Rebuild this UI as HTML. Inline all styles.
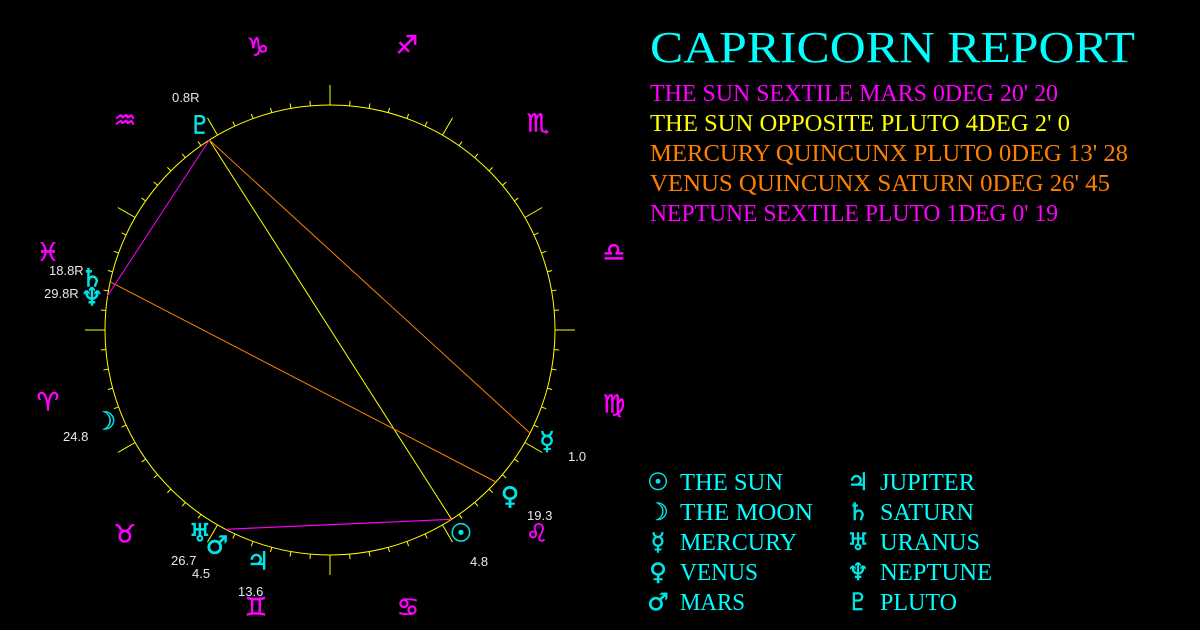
<!DOCTYPE html>
<html><head><meta charset="utf-8"><style>
html,body{margin:0;padding:0;background:#000;width:1200px;height:630px;overflow:hidden}
svg{display:block}
.z{fill:#ff00ff;font-family:"DejaVu Sans",sans-serif;font-size:25px;text-anchor:middle;dominant-baseline:central;stroke:#ff00ff;stroke-width:0.6}
.p{fill:#00e5e5;font-family:"DejaVu Sans",sans-serif;font-size:25px;text-anchor:middle;dominant-baseline:central;stroke:#00e5e5;stroke-width:0.6}
.l{fill:#e8e8e8;font-family:"Liberation Sans",sans-serif;font-size:13px}
.t{font-family:"Liberation Serif",serif;font-size:24px}
.g{fill:#00e5e5;font-family:"DejaVu Sans",sans-serif;font-size:24px;text-anchor:middle;dominant-baseline:central;stroke:#00e5e5;stroke-width:0.5}
</style></head><body>
<svg id="s" width="1200" height="630" viewBox="0 0 1200 630" xmlns="http://www.w3.org/2000/svg">
<circle cx="330" cy="330" r="225" fill="none" stroke="#ffff00" stroke-width="1"/>
<g id="ticks" stroke="#ffff00" stroke-width="1"></g>
<line x1="451.6" y1="519.3" x2="225.8" y2="529.3" stroke="#ff00ff" stroke-width="1.2"/>
<line x1="451.6" y1="519.3" x2="209.3" y2="140" stroke="#ffff00" stroke-width="1"/>
<line x1="530" y1="433" x2="209.3" y2="140" stroke="#ff7f00" stroke-width="1"/>
<line x1="496" y1="482" x2="111" y2="282.3" stroke="#ff7f00" stroke-width="1"/>
<line x1="107" y1="296.7" x2="209.3" y2="140" stroke="#ff00ff" stroke-width="1"/>
<text class="z" x="258" y="47">♑</text>
<text class="z" x="407" y="45">♐</text>
<text class="z" x="538" y="123">♏</text>
<text class="z" x="614" y="252">♎</text>
<text class="z" x="614" y="404">♍</text>
<text class="z" x="537" y="533">♌</text>
<text class="z" x="408" y="607">♋</text>
<text class="z" x="256" y="607">♊</text>
<text class="z" x="125" y="534">♉</text>
<text class="z" x="48" y="402">♈</text>
<text class="z" x="48" y="252">♓</text>
<text class="z" x="125" y="120">♒</text>
<text class="p" x="200" y="125">♇</text><text class="l" x="172" y="102">0.8R</text>
<text class="p" x="92" y="278">♄</text><text class="l" x="49" y="275">18.8R</text>
<text class="p" x="92" y="297">♆</text><text class="l" x="44" y="298">29.8R</text>
<text class="p" x="105" y="421">☽</text><text class="l" x="63" y="441">24.8</text>
<text class="p" x="200" y="533">♅</text><text class="l" x="171" y="565">26.7</text>
<text class="p" x="217" y="545">♂</text><text class="l" x="192" y="578">4.5</text>
<text class="p" x="258" y="561">♃</text><text class="l" x="238" y="596">13.6</text>
<text class="p" x="461" y="533">☉</text><text class="l" x="470" y="566">4.8</text>
<text class="p" x="510" y="496">♀</text><text class="l" x="527" y="520">19.3</text>
<text class="p" x="547" y="441">☿</text><text class="l" x="568" y="461">1.0</text>
<text x="650" y="62" fill="#00ffff" font-family="Liberation Serif,serif" font-size="44" textLength="485" lengthAdjust="spacingAndGlyphs">CAPRICORN REPORT</text>
<text class="t" x="650" y="101" fill="#ff00ff" textLength="408" lengthAdjust="spacingAndGlyphs">THE SUN SEXTILE MARS 0DEG 20' 20</text>
<text class="t" x="650" y="131" fill="#ffff00" textLength="420" lengthAdjust="spacingAndGlyphs">THE SUN OPPOSITE PLUTO 4DEG 2' 0</text>
<text class="t" x="650" y="161" fill="#ff8000" textLength="478" lengthAdjust="spacingAndGlyphs">MERCURY QUINCUNX PLUTO 0DEG 13' 28</text>
<text class="t" x="650" y="191" fill="#ff8000" textLength="460" lengthAdjust="spacingAndGlyphs">VENUS QUINCUNX SATURN 0DEG 26' 45</text>
<text class="t" x="650" y="221" fill="#ff00ff" textLength="408" lengthAdjust="spacingAndGlyphs">NEPTUNE SEXTILE PLUTO 1DEG 0' 19</text>
<g fill="#00ffff">
<text class="g" x="658" y="482">☉</text><text class="t" x="680" y="490" textLength="103" lengthAdjust="spacingAndGlyphs">THE SUN</text>
<text class="g" x="658" y="512">☽</text><text class="t" x="680" y="520" textLength="133" lengthAdjust="spacingAndGlyphs">THE MOON</text>
<text class="g" x="658" y="542">☿</text><text class="t" x="680" y="550" textLength="117" lengthAdjust="spacingAndGlyphs">MERCURY</text>
<text class="g" x="658" y="572">♀</text><text class="t" x="680" y="580" textLength="78" lengthAdjust="spacingAndGlyphs">VENUS</text>
<text class="g" x="658" y="602">♂</text><text class="t" x="680" y="610" textLength="65" lengthAdjust="spacingAndGlyphs">MARS</text>
<text class="g" x="858" y="482">♃</text><text class="t" x="880" y="490" textLength="95" lengthAdjust="spacingAndGlyphs">JUPITER</text>
<text class="g" x="858" y="512">♄</text><text class="t" x="880" y="520" textLength="94" lengthAdjust="spacingAndGlyphs">SATURN</text>
<text class="g" x="858" y="542">♅</text><text class="t" x="880" y="550" textLength="100" lengthAdjust="spacingAndGlyphs">URANUS</text>
<text class="g" x="858" y="572">♆</text><text class="t" x="880" y="580" textLength="112" lengthAdjust="spacingAndGlyphs">NEPTUNE</text>
<text class="g" x="858" y="602">♇</text><text class="t" x="880" y="610" textLength="77" lengthAdjust="spacingAndGlyphs">PLUTO</text>
</g>
</svg>
<script>
var g=document.getElementById('ticks'),h='';
for(var a=0;a<360;a+=5){var r=a*Math.PI/180,L=(a%30==0)?20:5;
var c=Math.cos(r),s=Math.sin(r);
h+='<line x1="'+(330+225*c)+'" y1="'+(330-225*s)+'" x2="'+(330+(225+L)*c)+'" y2="'+(330-(225+L)*s)+'"/>';}
g.innerHTML=h;
</script>
</body></html>
